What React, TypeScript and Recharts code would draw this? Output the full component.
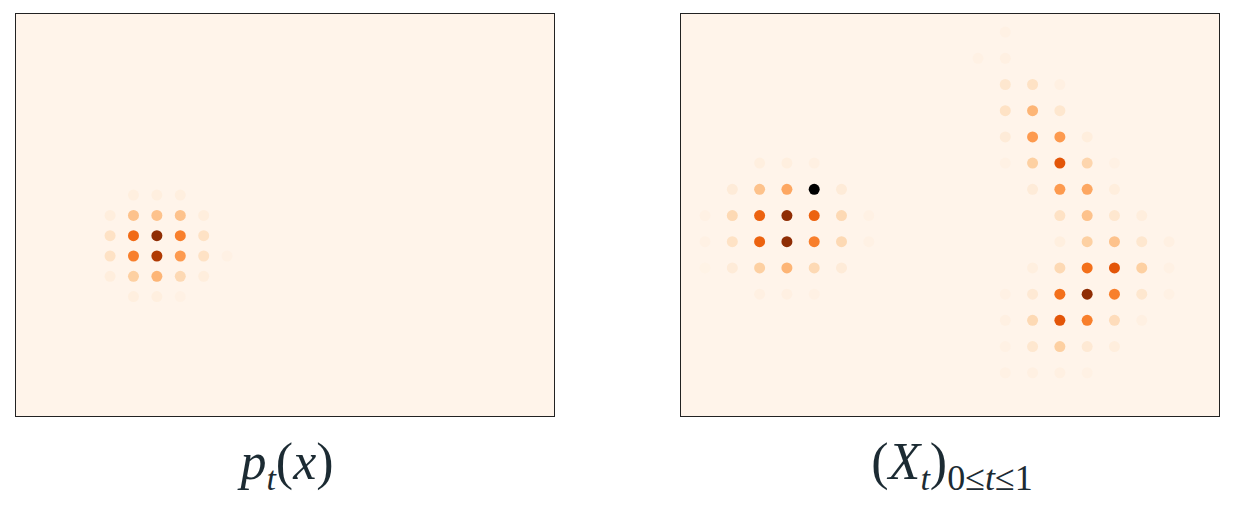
import { ScatterChart, Scatter, XAxis, YAxis, ZAxis } from "recharts";

// intensity rows: [startColumn, values...]; 2 = black outlier
const densityRows: number[][] = [
  [1, 0.05, 0.05, 0.05],
  [0, 0.06, 0.3, 0.3, 0.3, 0.06],
  [0, 0.15, 0.62, 0.95, 0.55, 0.15],
  [0, 0.15, 0.55, 0.85, 0.45, 0.15, 0.03],
  [0, 0.06, 0.25, 0.35, 0.2, 0.06],
  [1, 0.05, 0.05, 0.03],
];

const pathRowsLeft: number[][] = [
  [2, 0.05, 0.05, 0.04],
  [1, 0.08, 0.3, 0.4, 2, 0.08],
  [0, 0.03, 0.2, 0.65, 0.95, 0.65, 0.2, 0.03],
  [0, 0.03, 0.15, 0.65, 0.95, 0.55, 0.2, 0.03],
  [0, 0.02, 0.08, 0.25, 0.35, 0.2, 0.08],
  [2, 0.04, 0.04, 0.03],
];
const pathRowsLeftStart = 5;

const pathRowsRight: number[][] = [
  [11, 0.03],
  [10, 0.03, 0.04],
  [11, 0.12, 0.15, 0.04],
  [11, 0.15, 0.35, 0.12],
  [11, 0.08, 0.45, 0.45, 0.06],
  [11, 0.03, 0.25, 0.7, 0.22, 0.03],
  [12, 0.08, 0.45, 0.4, 0.06],
  [13, 0.15, 0.3, 0.12, 0.06],
  [13, 0.05, 0.25, 0.3, 0.12, 0.04],
  [12, 0.05, 0.2, 0.6, 0.7, 0.25, 0.03],
  [11, 0.03, 0.1, 0.6, 0.95, 0.55, 0.12, 0.03],
  [11, 0.04, 0.2, 0.7, 0.55, 0.18, 0.04],
  [11, 0.03, 0.12, 0.25, 0.1, 0.06],
  [11, 0.03, 0.04, 0.04, 0.03],
];

const labels = ["p", "X"];

type Pt = { x: number; y: number; v: number };

const toPoints = (rows: number[][], rowStart = 0): Pt[] =>
  rows.flatMap((r, i) =>
    r.slice(1).map((v, j) => ({ x: r[0] + j, y: rowStart + i, v }))
  );

const stops = ["#fff5eb", "#fee6ce", "#fdd0a2", "#fdae6b", "#fd8d3c", "#f16913", "#d94801", "#a63603", "#7f2704"];
const hex = (c: string) => [1, 3, 5].map((k) => parseInt(c.slice(k, k + 2), 16));
const oranges = (t: number) => {
  if (t > 1.5) return "#000000";
  const p = Math.max(0, Math.min(1, t)) * (stops.length - 1);
  const i = Math.min(stops.length - 2, Math.floor(p));
  const f = p - i;
  const a = hex(stops[i]);
  const b = hex(stops[i + 1]);
  return `rgb(${a.map((x, k) => Math.round(x + (b[k] - x) * f)).join(",")})`;
};

const Dot = (props: any) => (
  <circle cx={props.cx} cy={props.cy} r={5.5} fill={oranges(props.payload.v)} />
);

const Panel = ({ left, data, xd, yd }: { left: number; data: Pt[]; xd: [number, number]; yd: [number, number] }) => (
  <div style={{ position: "absolute", left: left - 1, top: 13, width: 538, height: 402, border: "1px solid #222", background: "#fff4ea" }}>
    <ScatterChart width={538} height={402} margin={{ top: 0, right: 0, bottom: 0, left: 0 }}>
      <XAxis type="number" dataKey="x" domain={xd} hide allowDataOverflow />
      <YAxis type="number" dataKey="y" domain={yd} reversed hide allowDataOverflow />
      <ZAxis range={[40, 40]} />
      <Scatter data={data} shape={<Dot />} isAnimationActive={false} />
    </ScatterChart>
  </div>
);

const textStyle: React.CSSProperties = {
  position: "absolute",
  top: 432,
  fontFamily: "'Liberation Serif', 'DejaVu Serif', serif",
  fontSize: 52,
  color: "#1c2b33",
  transform: "translateX(-50%)",
  whiteSpace: "nowrap",
};

export default function App() {
  return (
    <div style={{ position: "absolute", left: 0, top: 0, width: 1260, height: 522, background: "#fff" }}>
      <Panel left={16} data={toPoints(densityRows)} xd={[-4.02, 18.97]} yd={[-8.92, 10.88]} />
      <Panel
        left={681}
        data={[...toPoints(pathRowsLeft, pathRowsLeftStart), ...toPoints(pathRowsRight)]}
        xd={[-0.88, 18.83]}
        yd={[-0.69, 14.65]}
      />
      <div style={{ ...textStyle, left: 287 }}>
        <i>{labels[0]}</i>
        <sub style={{ fontSize: 34 }}><i>t</i></sub>(<i>x</i>)
      </div>
      <div style={{ ...textStyle, left: 952 }}>
        (<i>{labels[1]}</i>
        <sub style={{ fontSize: 34 }}><i>t</i></sub>)
        <sub style={{ fontSize: 36 }}>0≤<i>t</i>≤1</sub>
      </div>
    </div>
  );
}
